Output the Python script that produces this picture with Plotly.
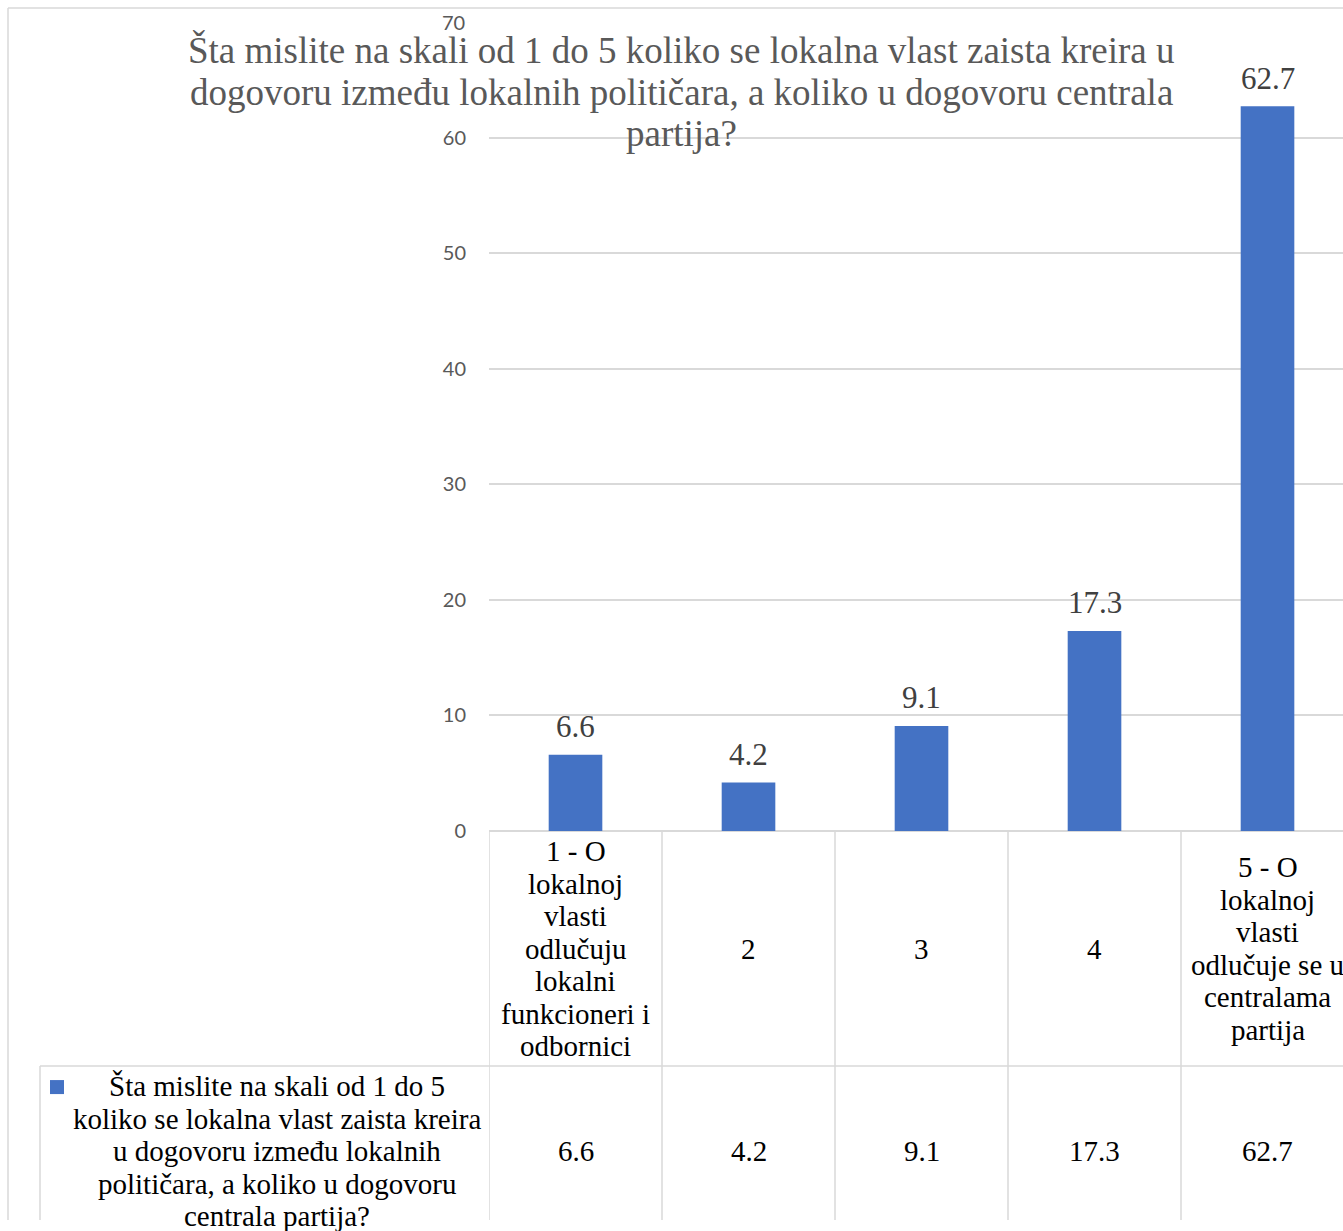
import plotly.graph_objects as go

# ---------------- data ----------------
categories = [
    "1 - O lokalnoj vlasti odlučuju lokalni funkcioneri i odbornici",
    "2",
    "3",
    "4",
    "5 - O lokalnoj vlasti odlučuje se u centralama partija",
]
category_lines = [
    ["1 - O", "lokalnoj", "vlasti", "odlučuju", "lokalni", "funkcioneri i", "odbornici"],
    ["2"],
    ["3"],
    ["4"],
    ["5 - O", "lokalnoj", "vlasti", "odlučuje se u", "centralama", "partija"],
]
values = [6.6, 4.2, 9.1, 17.3, 62.7]
series_name = ("Šta mislite na skali od 1 do 5 koliko se lokalna vlast zaista kreira "
               "u dogovoru između lokalnih političara, a koliko u dogovoru centrala partija?")
series_lines = [
    "Šta mislite na skali od 1 do 5",
    "koliko se lokalna vlast zaista kreira",
    "u dogovoru između lokalnih",
    "političara, a koliko u dogovoru",
    "centrala partija?",
]
title_lines = [
    "Šta mislite na skali od 1 do 5 koliko se lokalna vlast zaista kreira u",
    "dogovoru između lokalnih političara, a koliko u dogovoru centrala",
    "partija?",
]
y_ticks = [0, 10, 20, 30, 40, 50, 60, 70]

# ---------------- layout helpers ----------------
W, H = 1343, 1231
A, B = 0.991, 0.0

def PX(px):
    return px / W

def PY(py):
    fy = (py - B) / A
    fy = min(max(fy, 0.75), H)
    return 1 - fy / H

BAR = "#4472C4"
GRID = "#d9d9d9"
SERIF = "Liberation Serif, Times New Roman, serif"
SANS = "Lato, Liberation Sans, sans-serif"

x_idx = list(range(len(categories)))

fig = go.Figure()
fig.add_trace(go.Bar(
    x=x_idx, y=values, name=series_name,
    marker=dict(color=BAR, line=dict(width=0)),
    width=0.31, showlegend=False, hoverinfo="x+y",
))

annotations = []
shapes = []

# title (overlapping plot area, like the source)
t_y = [50, 92, 133]
for line, yy in zip(title_lines, t_y):
    annotations.append(dict(text=line, x=PX(681), y=PY(yy), xref="paper", yref="paper",
                            xanchor="center", yanchor="middle", showarrow=False,
                            font=dict(family=SERIF, size=37, color="#595959")))

# top tick label drawn as an annotation (kept as real text)
annotations.append(dict(text=str(y_ticks[-1]), x=PX(467), y=y_ticks[-1], xref="paper", yref="y",
                        xanchor="right", yanchor="middle", showarrow=False,
                        font=dict(family=SANS, size=20, color="#595959")))

# data labels
for i, v in zip(x_idx, values):
    annotations.append(dict(text=f"{v}", x=i, y=v, xref="x", yref="y",
                            xanchor="center", yanchor="middle", yshift=28 / A, showarrow=False,
                            font=dict(family=SERIF, size=31, color="#404040")))

# data table: category row
row1_top, row1_bot, row2_bot = 831, 1066, 1236
lh = 32.5
for i, lines in zip(x_idx, category_lines):
    n = len(lines)
    c = (row1_top + row1_bot) / 2
    for k, line in enumerate(lines):
        yy = c + (k - (n - 1) / 2) * lh
        annotations.append(dict(text=line, x=i, y=PY(yy), xref="x", yref="paper",
                                xanchor="center", yanchor="middle", showarrow=False,
                                font=dict(family=SERIF, size=29, color="#000000")))

# data table: value row
c2 = (row1_bot + row2_bot) / 2
for i, v in zip(x_idx, values):
    annotations.append(dict(text=f"{v}", x=i, y=PY(c2), xref="x", yref="paper",
                            xanchor="center", yanchor="middle", showarrow=False,
                            font=dict(family=SERIF, size=29, color="#000000")))

# legend cell
n = len(series_lines)
for k, line in enumerate(series_lines):
    yy = c2 + (k - (n - 1) / 2) * lh
    annotations.append(dict(text=line, x=PX(277), y=PY(yy), xref="paper", yref="paper",
                            xanchor="center", yanchor="middle", showarrow=False,
                            font=dict(family=SERIF, size=29, color="#000000")))
shapes.append(dict(type="rect", xref="paper", yref="paper",
                   x0=PX(50), x1=PX(64), y0=PY(1094), y1=PY(1080),
                   fillcolor=BAR, line=dict(width=0)))

# table lines
lw = 1.5
for b in [-0.5, 0.5, 1.5, 2.5, 3.5]:
    shapes.append(dict(type="line", xref="x", yref="paper", x0=b, x1=b,
                       y0=PY(row1_top), y1=0, line=dict(color=GRID, width=lw)))
shapes.append(dict(type="line", xref="paper", yref="paper", x0=PX(40), x1=1,
                   y0=PY(row1_bot), y1=PY(row1_bot), line=dict(color=GRID, width=lw)))
shapes.append(dict(type="line", xref="paper", yref="paper", x0=PX(40), x1=PX(40),
                   y0=PY(row1_bot), y1=0, line=dict(color=GRID, width=lw)))
# chart outer border
shapes.append(dict(type="line", xref="paper", yref="paper", x0=PX(8), x1=PX(8),
                   y0=PY(8), y1=0, line=dict(color=GRID, width=lw)))
shapes.append(dict(type="line", xref="paper", yref="paper", x0=PX(8), x1=1,
                   y0=PY(8), y1=PY(8), line=dict(color=GRID, width=lw)))

cat_w = 173.0
x_left = 489
x_range = [-0.5, -0.5 + (W - x_left) / cat_w]

tick_text = [str(t) for t in y_ticks[:-1]] + [""]

fig.update_layout(
    width=W, height=H,
    margin=dict(l=0, r=0, t=0, b=0),
    paper_bgcolor="white", plot_bgcolor="white",
    xaxis=dict(domain=[PX(x_left), 1], range=x_range, showticklabels=False,
               showgrid=False, zeroline=False, showline=False, ticks=""),
    yaxis=dict(domain=[PY(831), PY(22)], range=[0, 70], tickvals=y_ticks, ticktext=tick_text,
               showgrid=True, gridcolor=GRID, gridwidth=lw,
               zeroline=True, zerolinecolor=GRID, zerolinewidth=lw,
               showline=False, ticks="", ticklabelstandoff=22,
               tickfont=dict(family=SANS, size=20, color="#595959")),
    annotations=annotations,
    shapes=shapes,
    bargap=0.69,
)

fig.write_html(
    "out.html",
    config={"displayModeBar": False},
    post_script=(
        "var gd=document.getElementById('{plot_id}');"
        "gd.style.position='fixed';gd.style.top='0px';gd.style.left='0px';"
        "document.body.style.margin='0px';"
        "document.body.style.overflow='hidden';"
        "document.documentElement.style.overflow='hidden';"
    ),
)
